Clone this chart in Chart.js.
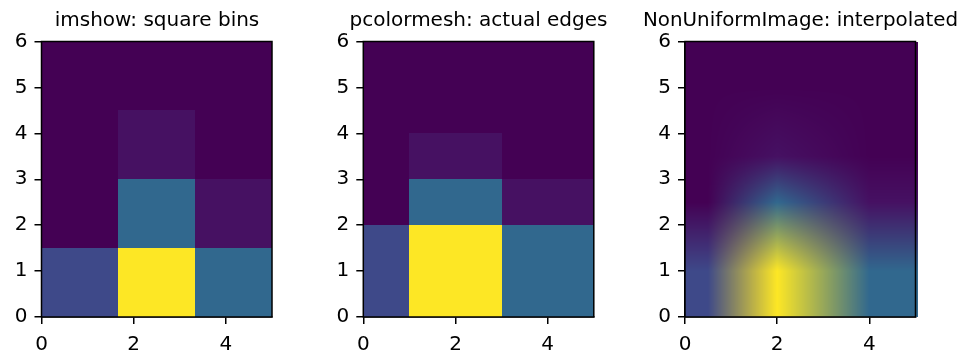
<!DOCTYPE html>
<html><head><meta charset="utf-8">
<script src="https://cdn.jsdelivr.net/npm/chart.js@4.4.0/dist/chart.umd.min.js"></script>
<style>
html,body{margin:0;padding:0;background:#fff;}
#wrap{position:relative;width:961px;height:354px;overflow:hidden;background:#fff;}
.panel{position:absolute;top:0;}
</style></head><body>
<div id="wrap"></div>
<script>
// ---- data ----
const titles = ['imshow: square bins', 'pcolormesh: actual edges', 'NonUniformImage: interpolated'];
const modes = ['imshow', 'mesh', 'interp'];
const xEdges = [0, 1, 3, 5];
const yEdges = [0, 2, 3, 4, 6];
// histogram counts, rows from bottom (y) to top, columns left (x) to right
const counts = [
  [10, 45, 15],
  [0, 15, 2],
  [0, 2, 0],
  [0, 0, 0]
];
const xTicks = [0, 2, 4];
const yTicks = [0, 1, 2, 3, 4, 5, 6];
const extent = [0, 5, 0, 6];

// ---- colormap (viridis stops) ----
const VIRIDIS = ['#440154','#482878','#3e4989','#31688e','#26828e','#1f9e89','#35b779','#6ece58','#b5de2b','#fde725'];
function hex2rgb(h){return [parseInt(h.slice(1,3),16),parseInt(h.slice(3,5),16),parseInt(h.slice(5,7),16)];}
const VRGB = VIRIDIS.map(hex2rgb);
function viridis(t){
  t = Math.max(0, Math.min(1, t));
  const p = t * (VRGB.length - 1);
  const i = Math.min(VRGB.length - 2, Math.floor(p));
  const f = p - i;
  return [0,1,2].map(k => VRGB[i][k] + (VRGB[i+1][k] - VRGB[i][k]) * f);
}
const vmax = Math.max(...counts.flat());
const cellRGB = counts.map(row => row.map(v => viridis(v / vmax)));
const rgbStr = c => 'rgb(' + c.map(Math.round).join(',') + ')';

// ---- layout ----
const W = 961, H = 354;
const plotLefts = [41.5, 363.3, 685];
const plotW = 230.5, plotBottom = 317;
const FONT = 'DejaVu Sans';
const FS = 20;

function locate(arr, v){
  if (v <= arr[0]) return [0, 0];
  const n = arr.length - 1;
  if (v >= arr[n]) return [n - 1, 1];
  for (let k = 0; k < n; k++) {
    if (v >= arr[k] && v < arr[k+1]) return [k, (v - arr[k]) / (arr[k+1] - arr[k])];
  }
  return [n - 1, 1];
}

const cellsPlugin = {
  id: 'cells',
  beforeDatasetsDraw(chart) {
    const mode = chart.options.plugins.cells.mode;
    const ctx = chart.ctx, xs = chart.scales.x, ys = chart.scales.y;
    const ny = counts.length, nx = counts[0].length;
    ctx.save();
    if (mode === 'imshow' || mode === 'mesh') {
      let xe, ye;
      if (mode === 'imshow') {
        xe = []; ye = [];
        for (let c = 0; c <= nx; c++) xe.push(extent[0] + (extent[1] - extent[0]) * c / nx);
        for (let r = 0; r <= ny; r++) ye.push(extent[2] + (extent[3] - extent[2]) * r / ny);
      } else { xe = xEdges; ye = yEdges; }
      for (let r = 0; r < ny; r++) for (let c = 0; c < nx; c++) {
        const x0 = Math.round(xs.getPixelForValue(xe[c])), x1 = Math.round(xs.getPixelForValue(xe[c+1]));
        const y0 = Math.round(ys.getPixelForValue(ye[r+1])), y1 = Math.round(ys.getPixelForValue(ye[r]));
        ctx.fillStyle = rgbStr(cellRGB[r][c]);
        ctx.fillRect(x0, y0, x1 - x0, y1 - y0);
      }
    } else {
      const xc = xEdges.slice(0, -1).map((e, i) => (e + xEdges[i+1]) / 2);
      const yc = yEdges.slice(0, -1).map((e, i) => (e + yEdges[i+1]) / 2);
      const ca = chart.chartArea;
      const L = Math.round(ca.left), T = Math.round(ca.top);
      // the reference image overruns the right spine by a couple of pixels
      const w = Math.round(ca.right) + 2 - L, h = Math.round(ca.bottom) - T;
      const off = document.createElement('canvas');
      off.width = w; off.height = h;
      const octx = off.getContext('2d');
      const img = octx.createImageData(w, h);
      for (let j = 0; j < h; j++) {
        const yv = ys.getValueForPixel(T + j + 0.5);
        const [ry, ty] = locate(yc, yv);
        for (let i = 0; i < w; i++) {
          const xv = xs.getValueForPixel(L + i + 0.5);
          const [cx, tx] = locate(xc, xv);
          const idx = (j * w + i) * 4;
          for (let k = 0; k < 3; k++) {
            const a = cellRGB[ry][cx][k], b = cellRGB[ry][cx+1][k];
            const c = cellRGB[ry+1][cx][k], d = cellRGB[ry+1][cx+1][k];
            const bot = a + (b - a) * tx, top = c + (d - c) * tx;
            img.data[idx + k] = Math.round(bot + (top - bot) * ty);
          }
          img.data[idx + 3] = 255;
        }
      }
      octx.putImageData(img, 0, 0);
      ctx.drawImage(off, L, T);
    }
    ctx.restore();
  },
  afterDatasetsDraw(chart) {
    const ca = chart.chartArea, ctx = chart.ctx;
    ctx.save();
    ctx.strokeStyle = '#000';
    ctx.lineWidth = 1.5;
    ctx.strokeRect(ca.left, ca.top, ca.right - ca.left, ca.bottom - ca.top);
    ctx.restore();
  }
};

const wrap = document.getElementById('wrap');
titles.forEach((title, i) => {
  const divLeft = Math.floor(plotLefts[i] - 41.5);
  const yW = plotLefts[i] - divLeft;
  const divW = Math.round(2 * yW + plotW);
  const rW = divW - yW - plotW;
  const div = document.createElement('div');
  div.className = 'panel';
  div.style.left = divLeft + 'px';
  div.style.width = divW + 'px';
  div.style.height = H + 'px';
  const cv = document.createElement('canvas');
  cv.width = divW; cv.height = H;
  cv.style.width = divW + 'px'; cv.style.height = H + 'px';
  div.appendChild(cv);
  wrap.appendChild(div);

  const tickFont = {family: FONT, size: FS};
  new Chart(cv, {
    type: 'scatter',
    data: {datasets: [{data: [], showLine: false}]},
    plugins: [cellsPlugin],
    options: {
      responsive: false,
      animation: false,
      events: [],
      layout: {padding: 0},
      plugins: {
        legend: {display: false},
        tooltip: {enabled: false},
        title: {display: true, text: title, color: '#000', font: {family: FONT, size: FS, weight: 'normal', lineHeight: 1.2}, padding: {top: 9, bottom: 8.5}},
        cells: {mode: modes[i]}
      },
      scales: {
        x: {
          type: 'linear', min: extent[0], max: extent[1],
          afterBuildTicks: s => { s.ticks = xTicks.map(v => ({value: v})); },
          ticks: {color: '#000', font: tickFont, padding: 9, maxRotation: 0, autoSkip: false},
          grid: {display: true, drawOnChartArea: false, drawTicks: true, tickLength: 7, color: '#000', lineWidth: 1.5},
          border: {display: true, color: '#000', width: 1.5},
          afterFit: s => { s.height = H - plotBottom; }
        },
        y: {
          type: 'linear', min: extent[2], max: extent[3],
          afterBuildTicks: s => { s.ticks = yTicks.map(v => ({value: v})); },
          ticks: {color: '#000', font: tickFont, padding: 7, autoSkip: false},
          grid: {display: true, drawOnChartArea: false, drawTicks: true, tickLength: 7, color: '#000', lineWidth: 1.5},
          border: {display: true, color: '#000', width: 1.5},
          afterFit: s => { s.width = yW; }
        },
        y2: {
          type: 'linear', position: 'right', display: true, min: 0, max: 1,
          grid: {display: false}, border: {display: false}, ticks: {display: false},
          afterFit: s => { s.width = rW; }
        }
      }
    }
  });
});
</script>
</body></html>
